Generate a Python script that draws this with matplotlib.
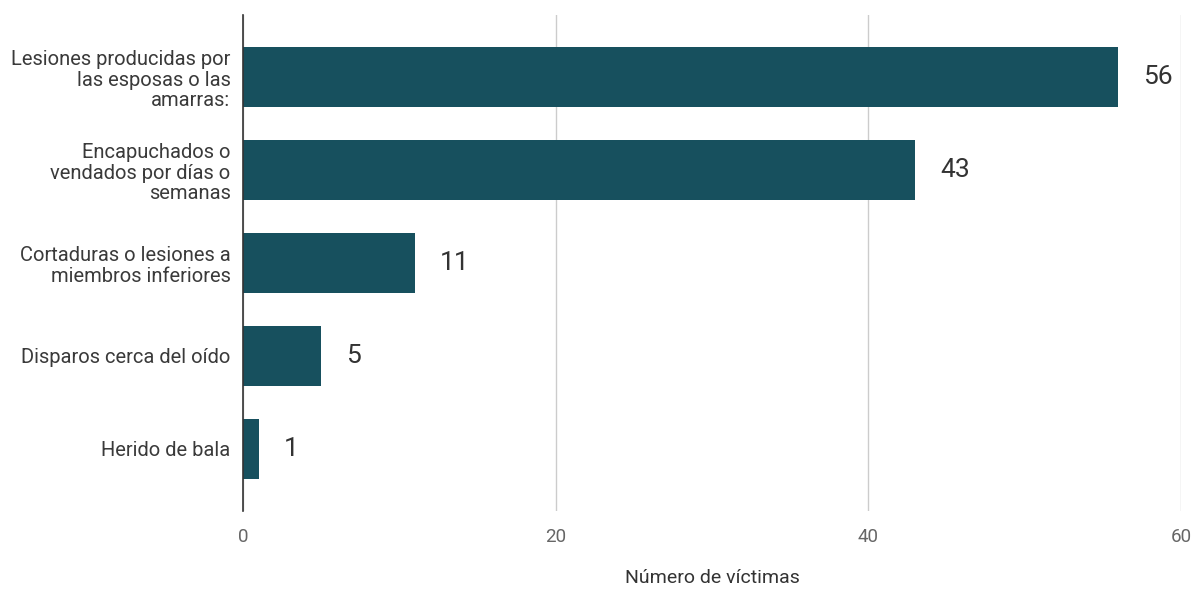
import matplotlib
matplotlib.use("Agg")
import matplotlib.pyplot as plt
import numpy as np

categories = [
    "Lesiones producidas por\nlas esposas o las\namarras:",
    "Encapuchados o\nvendados por días o\nsemanas",
    "Cortaduras o lesiones a\nmiembros inferiores",
    "Disparos cerca del oído",
    "Herido de bala",
]
values = [56, 43, 11, 5, 1]
xticks = [0, 20, 40, 60]
xlabel = "Número de víctimas"

plt.rcParams['font.family'] = ['Roboto', 'DejaVu Sans']

fig = plt.figure(figsize=(11.96, 5.92), dpi=100)
ax = fig.add_axes([243/1196, 1 - 511/592, (1181-243)/1196, (511-15)/592])

y = np.arange(len(categories))
ax.barh(y, values, height=0.65, color="#17505e", zorder=3)
ax.set_ylim(len(categories) - 1 + 0.67, -0.67)
ax.set_xlim(0, 60)
ax.set_xticks(xticks)
ax.set_xticklabels([str(t) for t in xticks], fontsize=13.5, color="#666666")
ax.set_yticks(y)
ax.set_yticklabels(categories, fontsize=14.5, color="#3a3a3a", linespacing=1.12)
ax.tick_params(axis='both', length=0)
ax.tick_params(axis='x', pad=12)
ax.tick_params(axis='y', pad=9)
ax.grid(axis='x', color="#cccccc", linewidth=1, zorder=0)
for s in ['top', 'right', 'bottom']:
    ax.spines[s].set_visible(False)
ax.spines['left'].set_color("#333333")
ax.spines['left'].set_linewidth(1.2)
ax.spines['left'].set_zorder(4)

for yi, v in zip(y, values):
    ax.annotate(str(v), (v, yi), xytext=(18, 0), textcoords='offset points',
                va='center', ha='left', fontsize=19, color="#333333")

ax.set_xlabel(xlabel, fontsize=14, color="#333333", labelpad=17)

fig.savefig("out.png", dpi=100)
